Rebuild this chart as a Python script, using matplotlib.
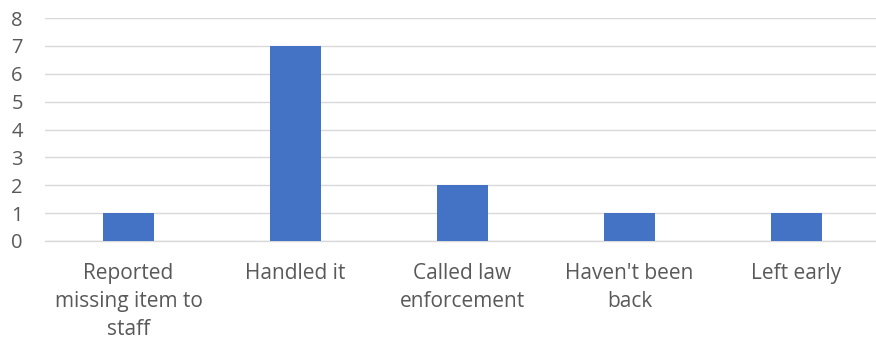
import matplotlib
matplotlib.use('Agg')
import matplotlib.pyplot as plt

categories = ['Reported\nmissing item to\nstaff', 'Handled it', 'Called law\nenforcement',
              "Haven't been\nback", 'Left early']
counts = [1, 7, 2, 1, 1]
y_ticks = [0, 1, 2, 3, 4, 5, 6, 7, 8]

plt.rcParams['font.family'] = ['Open Sans', 'DejaVu Sans']
text_color = '#595959'

fig = plt.figure(figsize=(8.76, 3.41), dpi=100)
ax = fig.add_axes([45 / 876, 1 - 241 / 341, 835 / 876, 223 / 341])

x = list(range(len(categories)))
ax.bar(x, counts, width=0.31, color='#4472C4', zorder=3)

ax.set_xlim(-0.5, len(categories) - 0.5)
ax.set_ylim(0, 8)
ax.set_yticks(y_ticks)
ax.set_xticks(x)
ax.set_xticklabels(categories, fontsize=15, color=text_color, linespacing=1.42)
ax.tick_params(axis='y', labelsize=14.5, labelcolor=text_color, length=0, pad=16)
ax.tick_params(axis='x', length=0, pad=16)

for s in ['top', 'right', 'left']:
    ax.spines[s].set_visible(False)
ax.spines['bottom'].set_color('#d9d9d9')
ax.spines['bottom'].set_linewidth(1.0)
ax.grid(axis='y', color='#d9d9d9', linewidth=1.0, zorder=0)
ax.set_axisbelow(True)

fig.savefig('out.png', dpi=100)
